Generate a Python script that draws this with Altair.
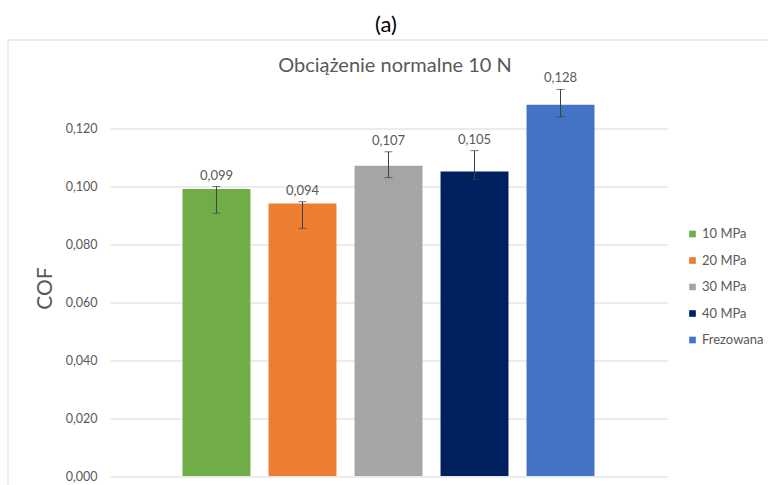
import altair as alt
import pandas as pd

categories = ["10 MPa", "20 MPa", "30 MPa", "40 MPa", "Frezowana"]
cof = [0.099, 0.094, 0.107, 0.105, 0.128]
err_low = [0.0906, 0.0854, 0.1029, 0.1023, 0.1239]
err_high = [0.0998, 0.0946, 0.1118, 0.1122, 0.1333]
colors = ["#70AD47", "#ED7D31", "#A5A5A5", "#002060", "#4472C4"]
y_ticks = [0.0, 0.02, 0.04, 0.06, 0.08, 0.10, 0.12]

df = pd.DataFrame({"cat": categories, "cof": cof, "lo": err_low, "hi": err_high})

FONT = "Lato"
GREY = "#595959"
W, H = 557, 391.5
PL, PT = 110, 84.5

xenc = alt.X("cat:N", sort=categories, axis=None,
             scale=alt.Scale(paddingInner=0.21, paddingOuter=0.843))
yscale = alt.Scale(domain=[0, 0.135], nice=False)

base = alt.Chart(df)

bars = base.mark_bar().encode(
    x=xenc,
    y=alt.Y("cof:Q", scale=yscale,
            axis=alt.Axis(values=y_ticks, title="COF", domain=False, ticks=False,
                          labelExpr="replace(format(datum.value, '.3f'), '.', ',')",
                          labelFont=FONT, labelFontSize=12.5, labelColor=GREY,
                          labelPadding=13, grid=True, gridColor="#D9D9D9",
                          titleFont=FONT, titleFontSize=21, titleFontWeight="normal",
                          titleColor=GREY, titleX=-65, titleY=203.5,
                          titleBaseline="middle", titleAngle=-90)),
    color=alt.Color("cat:N", sort=categories,
                    scale=alt.Scale(domain=categories, range=colors),
                    legend=alt.Legend(title=None, orient="none", legendX=576, legendY=143,
                                      symbolType="square", symbolSize=44,
                                      symbolStrokeWidth=0, labelFont=FONT,
                                      labelFontSize=13, labelColor=GREY,
                                      labelOffset=3, rowPadding=12.5, padding=0)),
)

err_rule = base.mark_rule(color="#404040", strokeWidth=1).encode(
    x=xenc, y=alt.Y("lo:Q", scale=yscale), y2="hi:Q")
err_top = base.mark_tick(color="#404040", thickness=1, size=8).encode(
    x=xenc, y=alt.Y("hi:Q", scale=yscale))
err_bot = base.mark_tick(color="#404040", thickness=1, size=8).encode(
    x=xenc, y=alt.Y("lo:Q", scale=yscale))

labels = base.transform_calculate(
    lab="replace(format(datum.cof, '.3f'), '.', ',')"
).mark_text(font=FONT, fontSize=13, color=GREY, baseline="alphabetic", dy=-7).encode(
    x=xenc, y=alt.Y("hi:Q", scale=yscale), text="lab:N")

inner_title = alt.Chart(pd.DataFrame({"t": ["Obciążenie normalne 10 N"]})).mark_text(
    font=FONT, fontSize=20, color=GREY, baseline="middle", align="center"
).encode(x=alt.value(395 - PL), y=alt.value(66 - PT), text="t:N")

top_title = alt.Chart(pd.DataFrame({"t": ["(a)"]})).mark_text(
    font=FONT, fontSize=22, color="#000000", baseline="middle", align="center"
).encode(x=alt.value(386 - PL), y=alt.value(25 - PT), text="t:N")

frame_left = alt.Chart(pd.DataFrame({"a": [1]})).mark_rule(color="#D9D9D9", strokeWidth=1).encode(
    x=alt.value(8 - PL), y=alt.value(40 - PT), y2=alt.value(500 - PT))
frame_top = alt.Chart(pd.DataFrame({"a": [1]})).mark_rule(color="#D9D9D9", strokeWidth=1).encode(
    x=alt.value(8 - PL), x2=alt.value(800 - PL), y=alt.value(40 - PT))

chart = alt.layer(frame_left, frame_top, bars, err_rule, err_top, err_bot, labels,
                  inner_title, top_title).properties(
    width=W, height=H,
    autosize=alt.AutoSizeParams(type="none"),
    padding={"left": PL, "top": PT, "right": 768 - PL - W, "bottom": 485 - PT - H},
    background="white",
).configure_view(stroke=None)

chart.save("out.html", embed_options={"renderer": "svg", "actions": False})
